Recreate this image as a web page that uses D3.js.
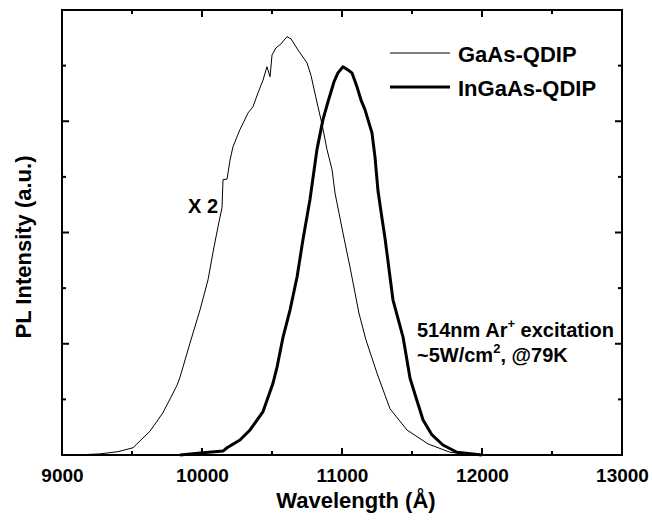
<!DOCTYPE html>
<html>
<head>
<meta charset="utf-8">
<script src="https://cdn.jsdelivr.net/npm/d3@7"></script>
<style>
  body { margin: 0; background: #fff; }
  text { font-family: "Liberation Sans", Arial, sans-serif; font-weight: bold; fill: #000; }
</style>
</head>
<body>
<svg id="chart" width="652" height="523"></svg>
<script>
// (wavelength in Angstrom, PL in arbitrary units)
var gaasWl = [9100, 9271, 9400, 9507, 9629, 9721, 9821, 9843, 9914, 9986, 10043, 10079, 10114, 10143, 10150, 10179, 10200, 10221, 10271, 10329, 10364, 10400, 10436, 10464, 10486, 10500, 10529, 10564, 10607, 10636, 10686, 10750, 10779, 10814, 10857, 10893, 10929, 10950, 11007, 11057, 11121, 11171, 11250, 11343, 11464, 11614, 11771, 11900, 12050];
var gaasPl = [0, 0.02, 0.06, 0.13, 0.43, 0.76, 1.25, 1.40, 2.01, 2.61, 3.15, 3.65, 4.10, 4.45, 4.95, 4.96, 5.30, 5.54, 5.85, 6.15, 6.26, 6.51, 6.74, 6.98, 6.80, 7.19, 7.32, 7.39, 7.52, 7.48, 7.28, 7.05, 6.82, 6.42, 5.95, 5.49, 5.13, 4.71, 3.99, 3.38, 2.55, 2.07, 1.47, 0.83, 0.45, 0.20, 0.05, 0.01, 0];

var ingaasWl = [9843, 10007, 10150, 10179, 10271, 10343, 10436, 10507, 10536, 10579, 10629, 10679, 10721, 10771, 10821, 10864, 10900, 10943, 10971, 11007, 11043, 11071, 11107, 11136, 11164, 11214, 11236, 11257, 11286, 11307, 11321, 11343, 11364, 11393, 11436, 11486, 11529, 11579, 11643, 11721, 11821, 12000];
var ingaasPl = [0, 0.04, 0.07, 0.13, 0.27, 0.45, 0.78, 1.29, 1.58, 2.12, 2.61, 3.20, 3.87, 4.59, 5.49, 6.03, 6.35, 6.71, 6.87, 6.98, 6.92, 6.87, 6.62, 6.38, 6.21, 5.79, 5.35, 4.75, 4.25, 3.90, 3.63, 3.20, 2.79, 2.52, 2.12, 1.38, 1.03, 0.63, 0.36, 0.18, 0.05, 0];

var xTickLabels = [9000, 10000, 11000, 12000, 13000];
var seriesNames = ["GaAs-QDIP", "InGaAs-QDIP"];

var margin = {left: 62, right: 30, top: 10, bottom: 68};
var width = 652 - margin.left - margin.right;
var height = 523 - margin.top - margin.bottom;

var svg = d3.select("#chart");
var g = svg.append("g").attr("transform", "translate(" + margin.left + "," + margin.top + ")");

var x = d3.scaleLinear().domain([9000, 13000]).range([0, width]);
var y = d3.scaleLinear().domain([0, 8]).range([height, 0]);

var xMinor = d3.range(9000, 13001, 500);
var yMinor = d3.range(0, 9, 1);

// bottom axis labels
var xAx = g.append("g").attr("transform", "translate(0," + height + ")")
	.call(d3.axisBottom(x).tickValues(xMinor).tickSize(0).tickPadding(14)
		.tickFormat(function(d) { return xTickLabels.indexOf(d) >= 0 ? d : ""; }));
xAx.select(".domain").remove();
xAx.selectAll("text").style("font-size", "19px");

// inward ticks on all four sides
function drawTicks(vals, isMajor, pos) {
	vals.forEach(function(v) {
		var L = isMajor(v) ? 7 : 4;
		var line = g.append("line").attr("stroke", "#000").attr("stroke-width", 2);
		if (pos == "bottom") line.attr("x1", x(v)).attr("x2", x(v)).attr("y1", height).attr("y2", height - L);
		if (pos == "top") line.attr("x1", x(v)).attr("x2", x(v)).attr("y1", 0).attr("y2", L);
		if (pos == "left") line.attr("x1", 0).attr("x2", L).attr("y1", y(v)).attr("y2", y(v));
		if (pos == "right") line.attr("x1", width).attr("x2", width - L).attr("y1", y(v)).attr("y2", y(v));
	});
}
var xMajor = function(v) { return v % 1000 == 0; };
var yMajor = function(v) { return v % 2 == 0; };
drawTicks(xMinor, xMajor, "bottom");
drawTicks(xMinor, xMajor, "top");
drawTicks(yMinor, yMajor, "left");
drawTicks(yMinor, yMajor, "right");

var line = d3.line()
	.x(function(d) { return x(d[0]); })
	.y(function(d) { return y(d[1]); });

g.append("path")
	.datum(d3.zip(gaasWl, gaasPl))
	.attr("fill", "none").attr("stroke", "#000").attr("stroke-width", 1)
	.attr("d", line);

g.append("path")
	.datum(d3.zip(ingaasWl, ingaasPl))
	.attr("fill", "none").attr("stroke", "#000").attr("stroke-width", 3)
	.attr("stroke-linejoin", "round")
	.attr("d", line);

// frame
g.append("rect")
	.attr("width", width).attr("height", height)
	.attr("fill", "none").attr("stroke", "#000").attr("stroke-width", 2);

// legend
var legend = g.append("g");
[1, 3].forEach(function(w, i) {
	var ly = 43 + i * 34;
	legend.append("line").attr("x1", 328).attr("x2", 388).attr("y1", ly).attr("y2", ly)
		.attr("stroke", "#000").attr("stroke-width", w);
	legend.append("text").attr("x", 396).attr("y", ly + 9).style("font-size", "22px").text(seriesNames[i]);
});

g.append("text").attr("x", 126).attr("y", 203).style("font-size", "20px").text("X 2");

var ann1 = g.append("text").attr("x", 355).attr("y", 327).style("font-size", "20px");
ann1.append("tspan").text("514nm Ar");
ann1.append("tspan").attr("dy", -9).style("font-size", "13px").text("+");
ann1.append("tspan").attr("dy", 9).text(" excitation");

var ann2 = g.append("text").attr("x", 355).attr("y", 352).style("font-size", "20px");
ann2.append("tspan").text("~5W/cm");
ann2.append("tspan").attr("dy", -9).style("font-size", "13px").text("2");
ann2.append("tspan").attr("dy", 9).text(", @79K");

// axis titles
svg.append("text").attr("x", 356).attr("y", 508).attr("text-anchor", "middle")
	.style("font-size", "22px").text("Wavelength (\u00C5)");
svg.append("text").attr("transform", "translate(31,247) rotate(-90)").attr("text-anchor", "middle")
	.style("font-size", "22px").text("PL Intensity (a.u.)");
</script>
</body>
</html>
